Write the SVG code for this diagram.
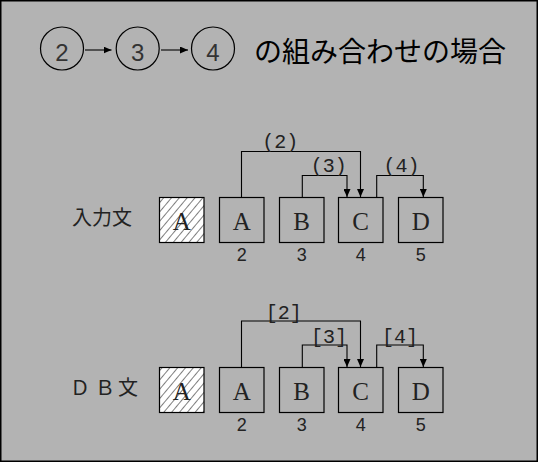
<svg xmlns="http://www.w3.org/2000/svg" width="538" height="462" viewBox="0 0 538 462">
<style>
.bg{fill:#b3b3b3;stroke:#000;stroke-width:1.5}
.circ{fill:none;stroke:#000;stroke-width:1.2}
.box{fill:none;stroke:#000;stroke-width:1.2}
.hbox{fill:url(#hatch);stroke:#000;stroke-width:1.2}
.cn{fill:none;stroke:#000;stroke-width:1.1}
.cd{font-family:"Liberation Sans",Arial,sans-serif;font-size:24px;fill:#333;text-anchor:middle}
.title{font-family:"Noto Sans CJK JP","Noto Sans CJK SC",sans-serif;font-size:28px;fill:#000}
.row{font-family:"Noto Sans CJK JP","Noto Sans CJK SC",sans-serif;font-size:20px;fill:#222}
.let{font-family:"Liberation Serif","Times New Roman",serif;font-size:25px;fill:#222;text-anchor:middle}
.num{font-family:"Liberation Sans",Arial,sans-serif;font-size:18px;fill:#222;text-anchor:middle}
.lbl{font-family:"Liberation Mono","Courier New",monospace;font-size:20px;fill:#222;text-anchor:middle}
</style>
<defs>
<pattern id="hatch" patternUnits="userSpaceOnUse" width="6" height="6" patternTransform="rotate(40)">
<rect width="6" height="6" fill="#fff"/>
<line x1="0" y1="0" x2="0" y2="6" stroke="#000" stroke-width="1"/>
</pattern>
<marker id="ah" viewBox="0 0 8 7" refX="8" refY="3.5" markerWidth="8" markerHeight="7" markerUnits="userSpaceOnUse" orient="auto">
<path d="M0,0 L8,3.5 L0,7 Z" fill="#000"/>
</marker>
</defs>
<rect class="bg" x="0.75" y="0.75" width="536.5" height="460.5"/>

<g id="title">
<g id="c2"><circle class="circ" cx="62" cy="48.5" r="21.5"/><text class="cd" x="62" y="60.5">2</text></g>
<g id="c3"><circle class="circ" cx="137.7" cy="48.5" r="21.5"/><text class="cd" x="137.7" y="60.5">3</text></g>
<g id="c4"><circle class="circ" cx="213" cy="48.5" r="21.5"/><text class="cd" x="213" y="60.5">4</text></g>
<text class="title" x="254" y="62">の組み合わせの場合</text>
</g>

<g id="row1">
<text class="row" x="72" y="224.5">入力文</text>
<g id="r1-h"><rect class="hbox" x="159.5" y="197.5" width="44.5" height="45"/><text class="let" x="181.7" y="230">A</text></g>
<g id="r1-a"><rect class="box" x="219.5" y="197.5" width="44.5" height="45"/><text class="let" x="241.7" y="230">A</text><text class="num" x="241.7" y="261">2</text></g>
<g id="r1-b"><rect class="box" x="279.5" y="197.5" width="44.5" height="45"/><text class="let" x="301.7" y="230">B</text><text class="num" x="301.7" y="261">3</text></g>
<g id="r1-c"><rect class="box" x="338.5" y="197.5" width="44.5" height="45"/><text class="let" x="360.7" y="230">C</text><text class="num" x="360.7" y="261">4</text></g>
<g id="r1-d"><rect class="box" x="398.5" y="197.5" width="44.5" height="45"/><text class="let" x="420.7" y="230">D</text><text class="num" x="420.7" y="261">5</text></g>
</g>

<g id="row2">
<text class="row" x="70 95 118" y="395">ＤＢ文</text>
<g id="r2-h"><rect class="hbox" x="159.5" y="367.5" width="44.5" height="45"/><text class="let" x="181.7" y="400">A</text></g>
<g id="r2-a"><rect class="box" x="219.5" y="367.5" width="44.5" height="45"/><text class="let" x="241.7" y="400">A</text><text class="num" x="241.7" y="431">2</text></g>
<g id="r2-b"><rect class="box" x="279.5" y="367.5" width="44.5" height="45"/><text class="let" x="301.7" y="400">B</text><text class="num" x="301.7" y="431">3</text></g>
<g id="r2-c"><rect class="box" x="338.5" y="367.5" width="44.5" height="45"/><text class="let" x="360.7" y="400">C</text><text class="num" x="360.7" y="431">4</text></g>
<g id="r2-d"><rect class="box" x="398.5" y="367.5" width="44.5" height="45"/><text class="let" x="420.7" y="400">D</text><text class="num" x="420.7" y="431">5</text></g>
</g>

<g id="connectors">
<line class="cn" x1="85" y1="50" x2="111.5" y2="50" marker-end="url(#ah)"/>
<line class="cn" x1="161" y1="50" x2="188" y2="50" marker-end="url(#ah)"/>

<path class="cn" d="M241.5,197.5 V151.5 H360.5 V197" marker-end="url(#ah)"/>
<path class="cn" d="M302.3,197.5 V175.5 H347 V197" marker-end="url(#ah)"/>
<path class="cn" d="M376.7,197.5 V175.5 H423.3 V197" marker-end="url(#ah)"/>
<text class="lbl" x="280.2" y="147.5">(2)</text>
<text class="lbl" x="328.8" y="172">(3)</text>
<text class="lbl" x="401.5" y="172">(4)</text>

<path class="cn" d="M241.5,367.5 V321 H360.5 V367" marker-end="url(#ah)"/>
<path class="cn" d="M302.3,367.5 V345 H347 V367" marker-end="url(#ah)"/>
<path class="cn" d="M376.7,367.5 V345 H423.3 V367" marker-end="url(#ah)"/>
<text class="lbl" x="283.7" y="319">[2]</text>
<text class="lbl" x="329" y="342.5">[3]</text>
<text class="lbl" x="400" y="342.5">[4]</text>
</g>
</svg>
